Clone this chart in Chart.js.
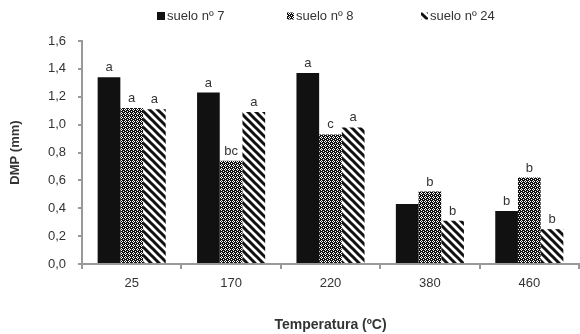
<!DOCTYPE html>
<html lang="es">
<head>
<meta charset="UTF-8">
<title>DMP por temperatura</title>
<script src="https://cdn.jsdelivr.net/npm/chart.js"></script>
<style>
  body { margin: 0; background: #fff; }
  #chart { display: block; }
</style>
</head>
<body>
<canvas id="chart" width="580" height="334"></canvas>
<script>
    var temperaturas = ['25', '170', '220', '380', '460'];
    var suelo7 = [1.34, 1.23, 1.37, 0.43, 0.38];
    var suelo8 = [1.12, 0.74, 0.93, 0.52, 0.62];
    var suelo24 = [1.11, 1.09, 0.98, 0.31, 0.25];
    var letras7 = ['a', 'a', 'a', '', 'b'];
    var letras8 = ['a', 'bc', 'c', 'b', 'b'];
    var letras24 = ['a', 'a', 'a', 'b', 'b'];

    var textColor = '#333333';
    var axisColor = '#999999';
    var fontFamily = '"Liberation Sans", Arial, sans-serif';

    // black mesh with small white rings
    function makeMesh() {
        var c = document.createElement('canvas');
        c.width = 4; c.height = 4;
        var g = c.getContext('2d');
        g.fillStyle = '#111';
        g.fillRect(0, 0, 4, 4);
        g.fillStyle = '#fff';
        [[0, 1], [2, 1], [1, 0], [1, 2], [3, 3]].forEach(function (p) {
            g.fillRect(p[0], p[1], 1, 1);
        });
        return g.createPattern(c, 'repeat');
    }

    // thick diagonal stripes going down to the right
    function makeStripes() {
        var s = 8;
        var c = document.createElement('canvas');
        c.width = s; c.height = s;
        var g = c.getContext('2d');
        g.fillStyle = '#fff';
        g.fillRect(0, 0, s, s);
        g.strokeStyle = '#111';
        g.lineWidth = 3;
        g.beginPath();
        g.moveTo(-2, -2); g.lineTo(s + 2, s + 2);
        g.moveTo(-2, s - 2); g.lineTo(2, s + 2);
        g.moveTo(s - 2, -2); g.lineTo(s + 2, 2);
        g.stroke();
        return g.createPattern(c, 'repeat');
    }

    var ctx = document.getElementById('chart').getContext('2d');
    var mesh = makeMesh();
    var stripes = makeStripes();

    var letras = [letras7, letras8, letras24];

    // letters over each bar
    var barLetters = {
        id: 'barLetters',
        afterDatasetsDraw: function (chart) {
            var c = chart.ctx;
            c.save();
            c.font = '13px ' + fontFamily;
            c.fillStyle = textColor;
            c.textAlign = 'center';
            c.textBaseline = 'bottom';
            chart.data.datasets.forEach(function (ds, i) {
                chart.getDatasetMeta(i).data.forEach(function (bar, j) {
                    var t = letras[i][j];
                    if (t) c.fillText(t, bar.x, bar.y - 3);
                });
            });
            c.restore();
        }
    };

    // legend row at the top
    var topLegend = {
        id: 'topLegend',
        afterDraw: function (chart) {
            var c = chart.ctx;
            var items = [
                { x: 157, size: 8 },
                { x: 287, size: 7 },
                { x: 421, size: 7 }
            ];
            c.save();
            c.font = '13px ' + fontFamily;
            c.textBaseline = 'middle';
            chart.data.datasets.forEach(function (ds, i) {
                var it = items[i];
                c.fillStyle = ds.backgroundColor;
                c.fillRect(it.x, 16 - it.size / 2, it.size, it.size);
                c.fillStyle = textColor;
                c.fillText(ds.label, it.x + it.size + 2, 16);
            });
            c.restore();
        }
    };

    new Chart(ctx, {
        type: 'bar',
        data: {
            labels: temperaturas,
            datasets: [
                { label: 'suelo nº 7', data: suelo7, backgroundColor: '#111' },
                { label: 'suelo nº 8', data: suelo8, backgroundColor: mesh },
                { label: 'suelo nº 24', data: suelo24, backgroundColor: stripes }
            ]
        },
        options: {
            responsive: false,
            animation: false,
            layout: { padding: { top: 41, right: 1, bottom: 0, left: 0 } },
            datasets: {
                bar: { categoryPercentage: 0.685, barPercentage: 1.0, borderWidth: 0 }
            },
            plugins: {
                legend: { display: false },
                tooltip: { enabled: false }
            },
            scales: {
                x: {
                    offset: true,
                    grid: {
                        offset: true,
                        drawOnChartArea: false,
                        drawTicks: true,
                        tickLength: 5,
                        color: axisColor,
                        lineWidth: 2
                    },
                    border: { color: axisColor, width: 2 },
                    ticks: {
                        color: textColor,
                        padding: 7,
                        font: { family: fontFamily, size: 13 }
                    },
                    title: {
                        display: true,
                        text: 'Temperatura (ºC)',
                        color: textColor,
                        padding: { top: 3, bottom: 0 },
                        font: { family: fontFamily, size: 14, weight: 'bold' }
                    },
                    afterFit: function (scale) { scale.height = 70; }
                },
                y: {
                    min: 0,
                    max: 1.6,
                    ticks: {
                        stepSize: 0.2,
                        color: textColor,
                        padding: 12,
                        font: { family: fontFamily, size: 13 },
                        callback: function (v) { return v.toFixed(1).replace('.', ','); }
                    },
                    grid: {
                        drawOnChartArea: false,
                        drawTicks: true,
                        tickLength: 4,
                        color: axisColor,
                        lineWidth: 2
                    },
                    border: { color: axisColor, width: 2 },
                    title: {
                        display: true,
                        text: 'DMP (mm)',
                        color: textColor,
                        padding: { top: 8, bottom: 0 },
                        font: { family: fontFamily, size: 13, weight: 'bold' }
                    },
                    afterFit: function (scale) { scale.width = 82; }
                }
            }
        },
        plugins: [barLetters, topLegend]
    });
</script>
</body>
</html>
